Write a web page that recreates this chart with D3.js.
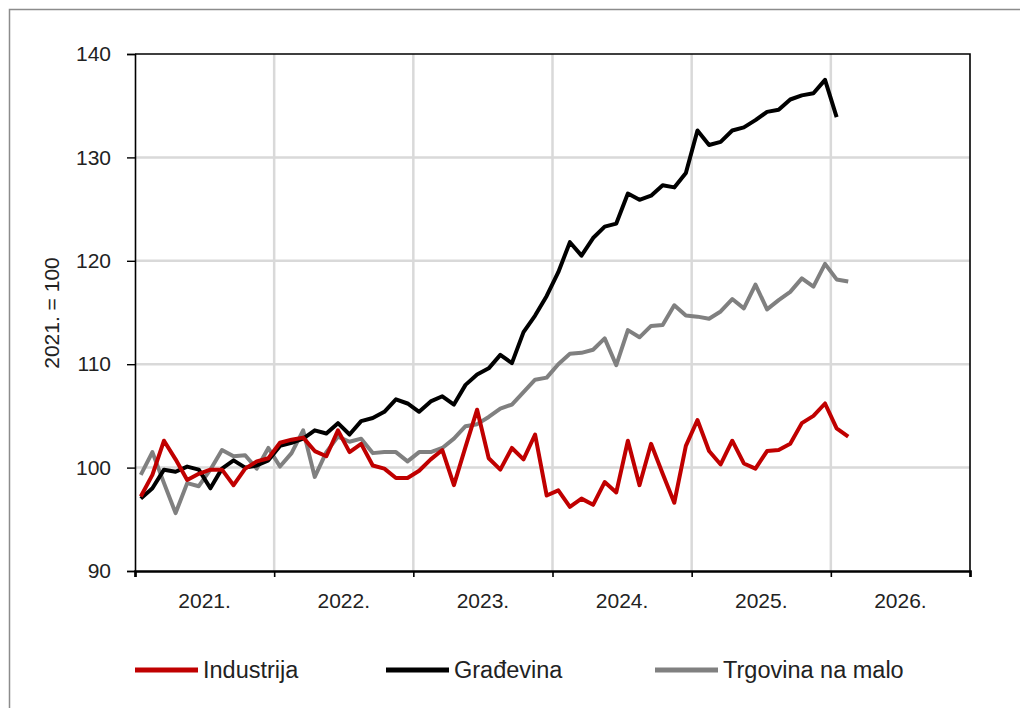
<!DOCTYPE html>
<html><head><meta charset="utf-8">
<script src="https://cdn.jsdelivr.net/npm/d3@7"></script>
<style>
html,body{margin:0;padding:0;background:#fff;}
svg{display:block;font-family:"Liberation Sans",Arial,sans-serif;}
</style></head>
<body><svg id="c" width="1020" height="708"></svg>
<script>
const years = ["2021.","2022.","2023.","2024.","2025.","2026."];
const yTicks = [90,100,110,120,130,140];
const seriesNames = ["Industrija","Građevina","Trgovina na malo"];
const seriesColors = ["#c00000","#000000","#808080"];
// monthly values starting January 2021
const industrija = [97.2,99.3,102.6,100.8,98.8,99.4,99.8,99.8,98.3,99.9,100.6,100.9,
  102.4,102.7,102.9,101.6,101.1,103.6,101.5,102.3,100.2,99.9,99.0,99.0,
  99.7,100.8,101.7,98.3,102.0,105.6,100.9,99.8,101.9,100.8,103.2,97.3,
  97.8,96.2,97.0,96.4,98.6,97.6,102.6,98.3,102.3,99.4,96.6,102.1,
  104.6,101.6,100.3,102.6,100.4,99.9,101.6,101.7,102.3,104.3,105.0,106.2,
  103.8,103.0];
const gradjevina = [97.0,98.0,99.8,99.6,100.1,99.8,98.0,99.9,100.7,100.0,100.2,100.7,
  102.1,102.4,102.8,103.6,103.3,104.3,103.2,104.5,104.8,105.4,106.6,106.2,
  105.4,106.4,106.9,106.1,108.0,109.0,109.6,110.9,110.1,113.1,114.7,116.6,
  118.9,121.8,120.5,122.2,123.3,123.6,126.5,125.9,126.3,127.3,127.1,128.5,
  132.6,131.2,131.5,132.6,132.9,133.6,134.4,134.6,135.6,136.0,136.2,137.5,
  133.9];
const trgovina = [99.3,101.5,98.5,95.6,98.5,98.2,99.8,101.7,101.1,101.2,99.9,101.9,
  100.1,101.4,103.6,99.1,101.5,103.0,102.5,102.8,101.4,101.5,101.5,100.6,
  101.5,101.5,101.9,102.8,104.0,104.2,104.9,105.7,106.1,107.3,108.5,108.7,
  110.0,111.0,111.1,111.4,112.5,109.9,113.3,112.6,113.7,113.8,115.7,114.7,
  114.6,114.4,115.1,116.3,115.4,117.7,115.3,116.2,117.0,118.3,117.5,119.7,
  118.2,118.0];
const yTitle = "2021. = 100";

const svg = d3.select("#c");
const L=135, R=970, T=54, B=571;
const x = d3.scaleLinear().domain([0, years.length*12]).range([L,R]);
const y = d3.scaleLinear().domain([90,140]).range([B,T]);

// outer frame
svg.append("path").attr("d","M9.5,708 V9.5 H1020").attr("fill","none")
  .attr("stroke","#8c8c8c").attr("stroke-width",1.5);

// gridlines
const grid = svg.append("g");
grid.selectAll("line.h").data(yTicks.filter(v=>v>90&&v<140)).join("line")
  .attr("x1",L).attr("x2",R).attr("y1",d=>y(d)).attr("y2",d=>y(d))
  .attr("stroke","#d9d9d9").attr("stroke-width",2.5);
grid.selectAll("line.v").data(d3.range(1,years.length)).join("line")
  .attr("x1",d=>x(d*12)).attr("x2",d=>x(d*12)).attr("y1",T).attr("y2",B)
  .attr("stroke","#d9d9d9").attr("stroke-width",2.5);

// plot border top/right
svg.append("path").attr("d",`M${L},${T} H${R} V${B}`).attr("fill","none")
  .attr("stroke","#000").attr("stroke-width",1.6);

// lines
const all = [industrija, gradjevina, trgovina];
const line = d3.line().x((d,i)=>x(i+0.5)).y(d=>y(d));
[2,1,0].forEach(k=>{
  svg.append("path").datum(all[k]).attr("d",line).attr("fill","none")
    .attr("stroke",seriesColors[k]).attr("stroke-width",4)
    .attr("stroke-linejoin","round");
});

// y axis
const yAxis = d3.axisLeft(y).tickValues(yTicks).tickSize(8).tickPadding(16);
const ga = svg.append("g").attr("transform",`translate(${L},0)`).call(yAxis);
ga.select(".domain").attr("stroke","#000").attr("stroke-width",1.6);
ga.selectAll(".tick line").attr("stroke","#000").attr("stroke-width",1.4);
ga.selectAll(".tick text").attr("font-size",21).attr("fill","#222")
  .attr("font-family","Liberation Sans, Arial, sans-serif");

// x axis
const xAxis = d3.axisBottom(x).tickValues(d3.range(0,years.length*12+1,12)).tickSize(6).tickFormat("");
const gx = svg.append("g").attr("transform",`translate(0,${B})`).call(xAxis);
gx.select(".domain").attr("stroke","#000").attr("stroke-width",2.6);
gx.selectAll(".tick line").attr("stroke","#000").attr("stroke-width",1.6);
svg.append("g").selectAll("text").data(years).join("text")
  .attr("x",(d,i)=>x(i*12+6)).attr("y",608).attr("text-anchor","middle")
  .attr("font-size",21).attr("fill","#222").text(d=>d);

// y title
svg.append("text").attr("transform","translate(59,313) rotate(-90)")
  .attr("text-anchor","middle").attr("font-size",21).attr("fill","#222").text(yTitle);

// legend
const legX = [135,386,655];
const lg = svg.append("g");
seriesNames.forEach((n,k)=>{
  lg.append("line").attr("x1",legX[k]).attr("x2",legX[k]+63).attr("y1",670).attr("y2",670)
    .attr("stroke",seriesColors[k]).attr("stroke-width",5);
  lg.append("text").attr("x",legX[k]+68).attr("y",678).attr("font-size",23.5)
    .attr("fill","#222").text(n);
});
</script></body></html>
